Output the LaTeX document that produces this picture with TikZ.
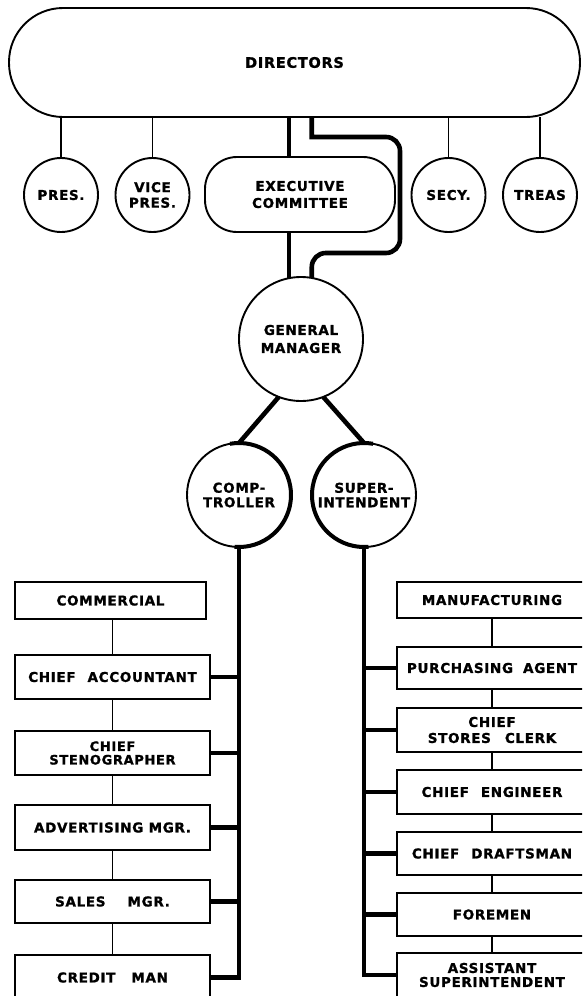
\documentclass[tikz,border=0pt]{standalone}
\usepackage{fontspec}
\newfontfamily\lab{DejaVu Sans}[BoldFont={DejaVu Sans Bold},BoldFeatures={FakeBold=1.2},LetterSpace=5]
\begin{document}
\begin{tikzpicture}[x=1pt,y=-1pt,
  lbl/.style={font=\lab\bfseries\fontsize{13.5}{15.5}\selectfont, align=center, inner sep=0pt, text=black},
  light/.style={line width=1.9pt},
  heavy/.style={line width=4.6pt},
  circ/.style={circle, draw, light, outer sep=0pt, lbl},
  box/.style={rectangle, draw, light, outer sep=0pt, lbl},
  lbox/.style={box, minimum width=195pt},
  rbox/.style={box, minimum width=190pt},
  pill/.style={rectangle, draw, light, outer sep=0pt, lbl}]
\useasboundingbox (0,0) rectangle (582,996);
\clip (0,0) rectangle (582,996);
\fill[white] (0,0) rectangle (582,996);

% top
\node[pill, rounded corners=54pt, minimum width=571pt, minimum height=109pt, font=\lab\bfseries\fontsize{14.5}{16}\selectfont] (dir) at (294.5,62.5) {DIRECTORS};
\node[circ, minimum size=74pt] (pres) at (61,195) {PRES.};
\node[circ, minimum size=74pt] (vp) at (152.5,195) {VICE\\PRES.};
\node[pill, rounded corners=32pt, minimum width=190pt, minimum height=75pt, font=\lab\bfseries\fontsize{13.5}{17}\selectfont] (exec) at (300,194.5) {EXECUTIVE\\COMMITTEE};
\node[circ, minimum size=74pt] (secy) at (448.5,195) {SECY.};
\node[circ, minimum size=74pt] (treas) at (540,195) {TREAS};
\node[circ, minimum size=124pt, font=\lab\bfseries\fontsize{13.5}{18}\selectfont] (gm) at (301,339) {GENERAL\\MANAGER};
\node[circ, minimum size=104pt, font=\lab\bfseries\fontsize{13.5}{14.5}\selectfont] (comp) at (239,495) {COMP-\\TROLLER};
\node[circ, minimum size=104pt, font=\lab\bfseries\fontsize{13.5}{14.5}\selectfont] (sup) at (364,495) {SUPER-\\INTENDENT};

\foreach \n in {pres,vp,secy,treas}
  \draw[light] (\n.north) -- (\n.north |- dir.south);
\draw[heavy] ([xshift=-11pt]exec.north) -- ([xshift=-11pt]exec.north |- dir.south);
\draw[heavy] ([xshift=-11pt]exec.south) -- ([xshift=-11pt]exec.south |- gm.101);
\draw[heavy] (gm.80 |- dir.south) -- (gm.80 |- 0,137) [rounded corners=14pt] -- (400,137) -- (400,253) -- (gm.80 |- 0,253) [sharp corners] -- (gm.80);
\draw[heavy] (gm.249) -- (comp.north);
\draw[heavy] (gm.291) -- (sup.north);
\draw[line width=4pt, x=1pt, y=1pt] (comp.100) arc[start angle=100, end angle=-95, radius=52pt];
\draw[line width=4pt, x=1pt, y=1pt] (sup.80) arc[start angle=80, end angle=275, radius=52pt];

% left column
\node[box, minimum width=191pt, minimum height=37pt] (com) at (110.5,600.5) {COMMERCIAL};
\node[lbox, minimum height=44pt] (acc) at (112.5,677) {CHIEF\hspace{12pt}ACCOUNTANT};
\node[lbox, minimum height=44pt, font=\lab\bfseries\fontsize{13}{13.5}\selectfont] (ste) at (112.5,753) {CHIEF\\STENOGRAPHER};
\node[lbox, minimum height=45pt] (adv) at (112.5,827.5) {ADVERTISING MGR.};
\node[lbox, minimum height=43pt] (sal) at (112.5,901.5) {SALES\hspace{22pt}MGR.};
\node[lbox, minimum height=45pt] (cre) at (112.5,977.5) {CREDIT\hspace{16pt}MAN};

\draw[light] (acc.north) -- (acc.north |- com.south);
\draw[light] (ste.north) -- (ste.north |- acc.south);
\draw[light] (adv.north) -- (adv.north |- ste.south);
\draw[light] (sal.north) -- (sal.north |- adv.south);
\draw[light] (cre.north) -- (cre.north |- sal.south);

\draw[heavy] (comp.south) -- (comp.south |- cre.east) -- (cre.east);
\foreach \n in {acc,ste,adv,sal}
  \draw[heavy] (\n.east) -- (\n.east -| comp.south);

% right column
\node[rbox, minimum height=36pt] (man) at (492,600) {MANUFACTURING};
\node[rbox, minimum height=42pt] (pur) at (492,668) {PURCHASING\hspace{10pt}AGENT};
\node[rbox, minimum height=44pt, font=\lab\bfseries\fontsize{13.5}{16}\selectfont] (sto) at (492,730) {CHIEF\\STORES\hspace{14pt}CLERK};
\node[rbox, minimum height=44pt] (eng) at (492,792) {CHIEF\hspace{12pt}ENGINEER};
\node[rbox, minimum height=43pt] (dra) at (492,853.5) {CHIEF\hspace{12pt}DRAFTSMAN};
\node[rbox, minimum height=43pt] (fore) at (492,914.5) {FOREMEN};
\node[rbox, minimum height=44pt, font=\lab\bfseries\fontsize{13.5}{14}\selectfont] (asst) at (492,975) {ASSISTANT\\SUPERINTENDENT};

\draw[light] (pur.north) -- (pur.north |- man.south);
\draw[light] (sto.north) -- (sto.north |- pur.south);
\draw[light] (eng.north) -- (eng.north |- sto.south);
\draw[light] (dra.north) -- (dra.north |- eng.south);
\draw[light] (fore.north) -- (fore.north |- dra.south);
\draw[light] (asst.north) -- (asst.north |- fore.south);

\draw[heavy] (sup.south) -- (sup.south |- asst.west) -- (asst.west);
\foreach \n in {pur,sto,eng,dra,fore}
  \draw[heavy] (\n.west) -- (\n.west -| sup.south);
\end{tikzpicture}
\end{document}
